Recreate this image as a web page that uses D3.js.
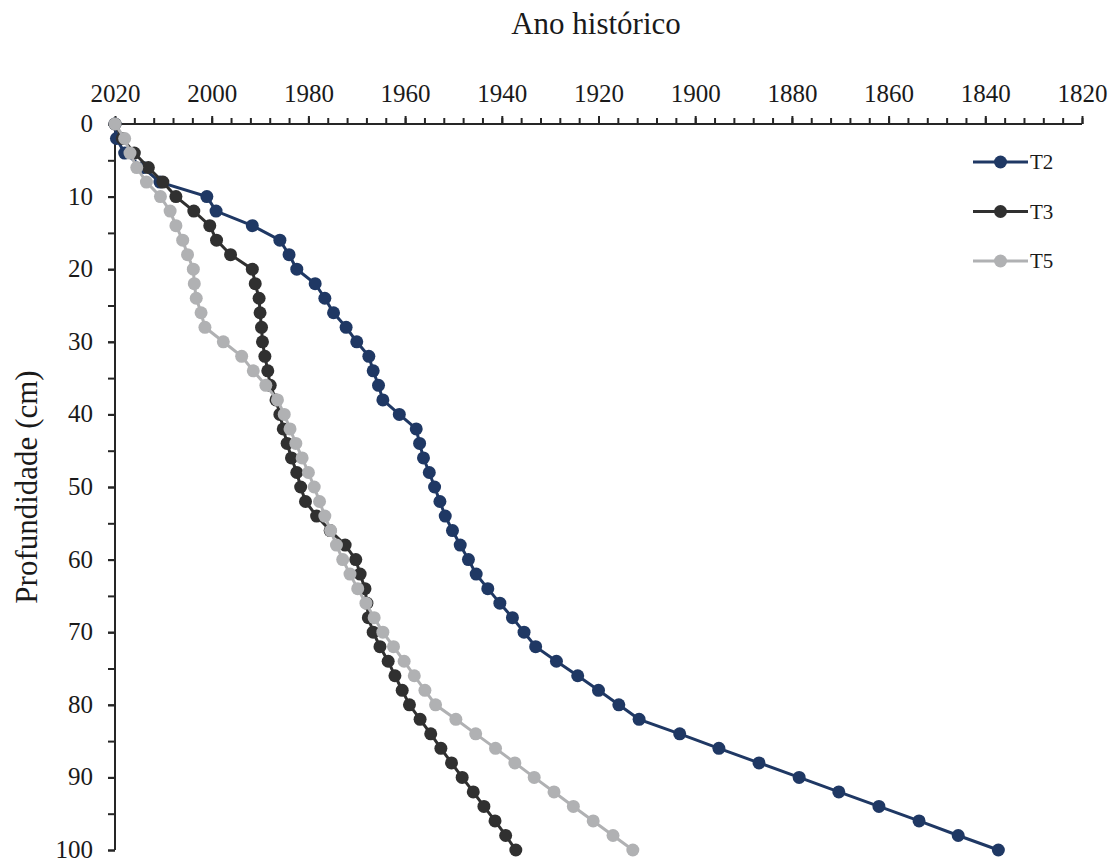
<!DOCTYPE html>
<html>
<head>
<meta charset="utf-8">
<script src="https://cdn.jsdelivr.net/npm/d3@7"></script>
<style>
  body { margin: 0; background: #fff; }
  svg text { font-family: "Liberation Serif", "Times New Roman", serif; }
</style>
</head>
<body>
<div id="container"></div>
<script>
// profundidade (cm), a cada 2 cm
var depths = d3.range(0, 101, 2);

var seriesNames = ['T2', 'T3', 'T5'];
var seriesColors = ['#1f3864', '#303030', '#b0b1b3'];

var t2Years = [2020, 2019.7, 2018, 2014.2, 2010.7, 2001, 1999.1, 1991.6, 1985.9, 1984,
  1982.4, 1978.6, 1976.6, 1974.8, 1972.2, 1970, 1967.5, 1966.6, 1965.5, 1964.6,
  1961.2, 1957.7, 1957, 1956.2, 1955, 1953.9, 1952.8, 1951.7, 1950.2, 1948.6,
  1946.9, 1945.3, 1942.9, 1940.4, 1937.8, 1935.4, 1933, 1928.7, 1924.3, 1920,
  1915.8, 1911.6, 1903.2, 1895.1, 1886.8, 1878.5, 1870.3, 1862, 1853.7, 1845.6, 1837.3];

var t3Years = [2020, 2018.5, 2016, 2013.1, 2010.1, 2007.4, 2003.7, 2000.4, 1999, 1996.1,
  1991.6, 1991, 1990.2, 1990, 1989.7, 1989.5, 1989, 1988.4, 1987.9, 1986.7,
  1985.9, 1985.2, 1984.4, 1983.5, 1982.4, 1981.6, 1980.6, 1978.3, 1975.5, 1972.4,
  1970.2, 1969.3, 1968.3, 1967.9, 1967.6, 1966.6, 1965.2, 1963.5, 1962.1, 1960.6,
  1959.1, 1956.9, 1954.7, 1952.6, 1950.4, 1948.2, 1945.9, 1943.7, 1941.4, 1939.2, 1937.1];

var t5Years = [2020, 2018, 2016.9, 2015.5, 2013.5, 2010.6, 2008.6, 2007.4, 2006, 2005,
  2003.8, 2003.6, 2003.2, 2002.2, 2001.4, 1997.6, 1993.8, 1991.4, 1988.8, 1986.4,
  1985, 1983.8, 1982.6, 1981.3, 1980, 1978.8, 1977.7, 1976.6, 1975.4, 1974.2,
  1972.9, 1971.4, 1969.8, 1968.1, 1966.4, 1964.6, 1962.4, 1960.2, 1958.1, 1955.9,
  1953.7, 1949.5, 1945.4, 1941.3, 1937.3, 1933.3, 1929.2, 1925.2, 1921.1, 1917, 1912.9];

var yearTicks = d3.range(2020, 1819, -20);
var yearMinor = d3.range(2020, 1819, -4);
var depthTicks = d3.range(0, 101, 10);
var depthMinor = d3.range(0, 101, 5);

var width = 1117, height = 863;
var svg = d3.select('#container')
      .append('svg')
      .attr('width', width)
      .attr('height', height);

var x = d3.scaleLinear().domain([2020, 1820]).range([115, 1082]);
var y = d3.scaleLinear().domain([0, 100]).range([124, 850]);

var axisColor = '#262626';

// eixo superior (anos)
var xMinor = svg.append('g')
      .attr('transform', 'translate(0,' + y(0) + ')')
      .call(d3.axisTop(x).tickValues(yearMinor).tickSize(6).tickFormat(''));
var xAxis = svg.append('g')
      .attr('transform', 'translate(0,' + y(0) + ')')
      .call(d3.axisTop(x).tickValues(yearTicks).tickSize(8).tickPadding(14).tickFormat(d3.format('d')));

// eixo esquerdo (profundidade)
var yMinor = svg.append('g')
      .attr('transform', 'translate(' + x(2020) + ',0)')
      .call(d3.axisLeft(y).tickValues(depthMinor).tickSize(7).tickFormat(''));
var yAxis = svg.append('g')
      .attr('transform', 'translate(' + x(2020) + ',0)')
      .call(d3.axisLeft(y).tickValues(depthTicks).tickSize(7).tickPadding(15));

svg.selectAll('.domain, .tick line')
  .style('stroke', axisColor)
  .style('stroke-width', 2);
xMinor.select('.domain').attr('d', 'M' + x(2020) + ',0H' + x(1820));
xAxis.select('.domain').attr('d', 'M' + x(2020) + ',0H' + x(1820));
yMinor.select('.domain').attr('d', 'M0,' + y(0) + 'V' + y(100));
yAxis.select('.domain').attr('d', 'M0,' + y(0) + 'V' + y(100));

svg.selectAll('.tick text')
  .style('font-size', '25px')
  .style('fill', '#1a1a1a');
yAxis.selectAll('.tick text').attr('dy', '0.3em');

// títulos
svg.append('text')
  .attr('x', 596)
  .attr('y', 34)
  .attr('text-anchor', 'middle')
  .style('font-size', '31px')
  .style('fill', '#1a1a1a')
  .text('Ano histórico');

svg.append('text')
  .attr('transform', 'translate(37,' + y(50) + ') rotate(-90)')
  .attr('text-anchor', 'middle')
  .style('font-size', '31px')
  .style('fill', '#1a1a1a')
  .text('Profundidade (cm)');

// séries
var allSeries = [t2Years, t3Years, t5Years];
var line = d3.line()
  .x(function(d) { return x(d.year); })
  .y(function(d) { return y(d.depth); });

allSeries.forEach(function(years, i) {
  var pts = years.map(function(yr, j) { return {year: yr, depth: depths[j]}; });
  var g = svg.append('g');
  g.append('path')
    .datum(pts)
    .attr('d', line)
    .style('fill', 'none')
    .style('stroke', seriesColors[i])
    .style('stroke-width', 3);
  g.selectAll('circle')
    .data(pts)
    .enter()
    .append('circle')
    .attr('cx', function(d) { return x(d.year); })
    .attr('cy', function(d) { return y(d.depth); })
    .attr('r', 6.5)
    .style('fill', seriesColors[i]);
});

// legenda
var legendY = [162, 211.5, 261];
var legend = svg.append('g');
seriesNames.forEach(function(name, i) {
  legend.append('line')
    .attr('x1', 973).attr('x2', 1028)
    .attr('y1', legendY[i]).attr('y2', legendY[i])
    .style('stroke', seriesColors[i])
    .style('stroke-width', 3);
  legend.append('circle')
    .attr('cx', 1000.5).attr('cy', legendY[i])
    .attr('r', 6.5)
    .style('fill', seriesColors[i]);
  legend.append('text')
    .attr('x', 1030).attr('y', legendY[i] + 7)
    .style('font-size', '21px')
    .style('fill', '#1a1a1a')
    .text(name);
});
</script>
</body>
</html>
